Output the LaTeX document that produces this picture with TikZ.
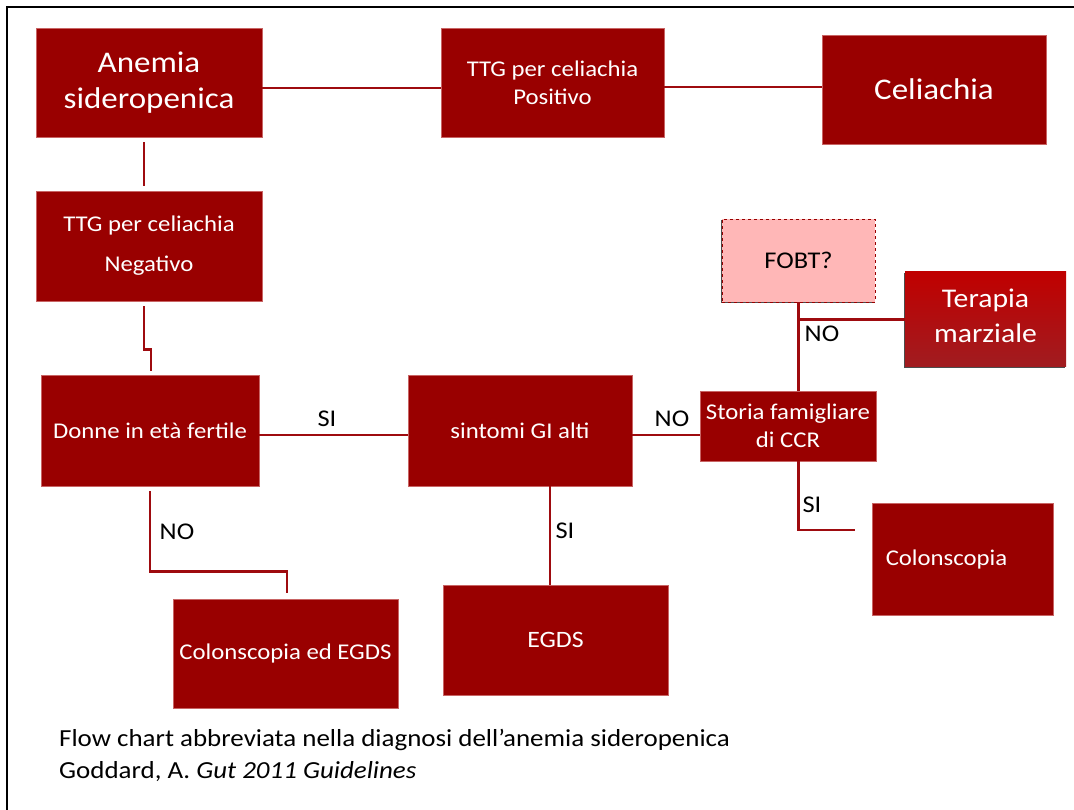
\documentclass[tikz,border=0pt]{standalone}
\usepackage{fontspec}
\setmainfont{Carlito}[FakeStretch=1.1]
\usetikzlibrary{calc,shadows}
\definecolor{boxred}{HTML}{990000}
\definecolor{boxedge}{HTML}{C86464}
\definecolor{linered}{HTML}{9E0B0F}
\definecolor{fobtpink}{HTML}{FFB7B7}
\definecolor{terTop}{HTML}{C00000}
\definecolor{terBot}{HTML}{A01C20}
\begin{document}
\begin{tikzpicture}[x=1pt,y=-1pt,
  redbox/.style={fill=boxred, draw=boxedge, line width=0.6pt, text=white, align=center, inner sep=0pt},
  fs/.style={font=\fontsize{22.5}{28}\selectfont},
  big/.style={font=\fontsize{30}{36}\selectfont},
  conn/.style={draw=linered, line width=2.5pt},
  lbl/.style={text=black, font=\fontsize{24}{26}\selectfont, inner sep=0pt}]
\useasboundingbox (0,0) rectangle (1074,810);
\draw[line width=1.5pt] (7,810) -- (7,7) -- (1074,7);

% nodes
\node[redbox, big, minimum width=226pt, minimum height=109pt] (anemia) at (149,82.5) {Anemia\\sideropenica};
\node[redbox, fs, minimum width=223pt, minimum height=109pt] (ttgpos) at (552.5,82.5) {TTG per celiachia\\Positivo};
\node[redbox, big, minimum width=224pt, minimum height=109pt] (celiachia) at (934,89.5) {Celiachia};
\node[redbox, font=\fontsize{22.5}{40}\selectfont, minimum width=226pt, minimum height=110pt] (ttgneg) at (149,246) {TTG per celiachia\\Negativo};
\node[redbox, fs, minimum width=218pt, minimum height=111pt] (donne) at (150,430.5) {Donne in età fertile};
\node[redbox, fs, minimum width=224pt, minimum height=111pt] (sintomi) at (520,430.5) {sintomi GI alti};
\node[redbox, fs, minimum width=176pt, minimum height=70pt] (storia) at (788,426) {Storia famigliare\\di CCR};
\node[fill=fobtpink, draw=boxred, dashed, line width=0.8pt, text=black, font=\fontsize{24}{28}\selectfont, minimum width=153pt, minimum height=83pt, inner sep=0pt,
  drop shadow={shadow xshift=-1.5pt, shadow yshift=-1.5pt, fill=black!70, opacity=1}] (fobt) at (798.5,260.5) {FOBT?};
\node[top color=terTop, bottom color=terBot, minimum width=161pt, minimum height=95pt, inner sep=0pt,
  drop shadow={shadow xshift=-1.5pt, shadow yshift=-1.5pt, fill=black!70, opacity=1},
  label={[text=white, align=center, font=\fontsize{27}{35}\selectfont, yshift=4pt]center:Terapia\\marziale}] (terapia) at (985.5,319.5) {};
\node[redbox, minimum width=181pt, minimum height=112pt,
  label={[text=white, font=\fontsize{22.5}{28}\selectfont, xshift=-16pt]center:Colonscopia}] (colon) at (962.5,559) {};
\node[redbox, font=\fontsize{23.5}{28}\selectfont, minimum width=225pt, minimum height=110pt] (egds) at (555.5,640) {EGDS};
\node[redbox, fs, minimum width=225pt, minimum height=109pt] (coloegds) at (285.5,653.5) {Colonscopia ed EGDS};

% connectors
\draw[conn] ([yshift=-5.5pt]anemia.east) -- ([yshift=-5.5pt]ttgpos.west);
\draw[conn] ([yshift=-4.5pt]ttgpos.east) -- ([yshift=2.5pt]celiachia.west);
\draw[conn, shorten <=5pt, shorten >=5pt] ([xshift=-5pt]anemia.south) -- ([xshift=-5pt]ttgneg.north);
\draw[conn] ([xshift=-5pt,yshift=-5pt]ttgneg.south) |- ([xshift=1pt,yshift=25pt]donne.north) -- ([xshift=1pt,yshift=4pt]donne.north);
\draw[conn] ([yshift=-4.5pt]donne.east) -- ([yshift=-4.5pt]sintomi.west);
\draw[conn] ([yshift=-4.5pt]sintomi.east) -- ([yshift=-9pt]storia.west);
\draw[conn] (fobt.south) -- (fobt.south |- storia.north);
\draw[conn] (fobt.south |- terapia.west) -- (terapia.west);
\draw[conn] (fobt.south |- storia.south) |- ([xshift=-17pt,yshift=29pt]colon.west);
\draw[conn] ([xshift=30pt]sintomi.south) -- ([xshift=30pt]sintomi.south |- egds.north);
\draw[conn] ([yshift=-5pt]donne.south) |- ([xshift=1.5pt,yshift=27pt]coloegds.north) -- ([xshift=1.5pt,yshift=6pt]coloegds.north);

% labels
\node[lbl] (lsi1) at (327,419) {SI};
\node[lbl] (lno1) at (672,419) {NO};
\node[lbl] (lno2) at (822,334) {NO};
\node[lbl] (lsi2) at (812,505) {SI};
\node[lbl] (lsi3) at (565,531) {SI};
\node[lbl] (lno3) at (177,532) {NO};

% caption
\node[anchor=north west, align=left, font=\fontsize{24.5}{32}\selectfont, inner sep=0pt] (caption) at (59,729)
  {Flow chart abbreviata nella diagnosi dell’anemia sideropenica\\Goddard, A. \textit{Gut 2011 Guidelines}};
\end{tikzpicture}
\end{document}
